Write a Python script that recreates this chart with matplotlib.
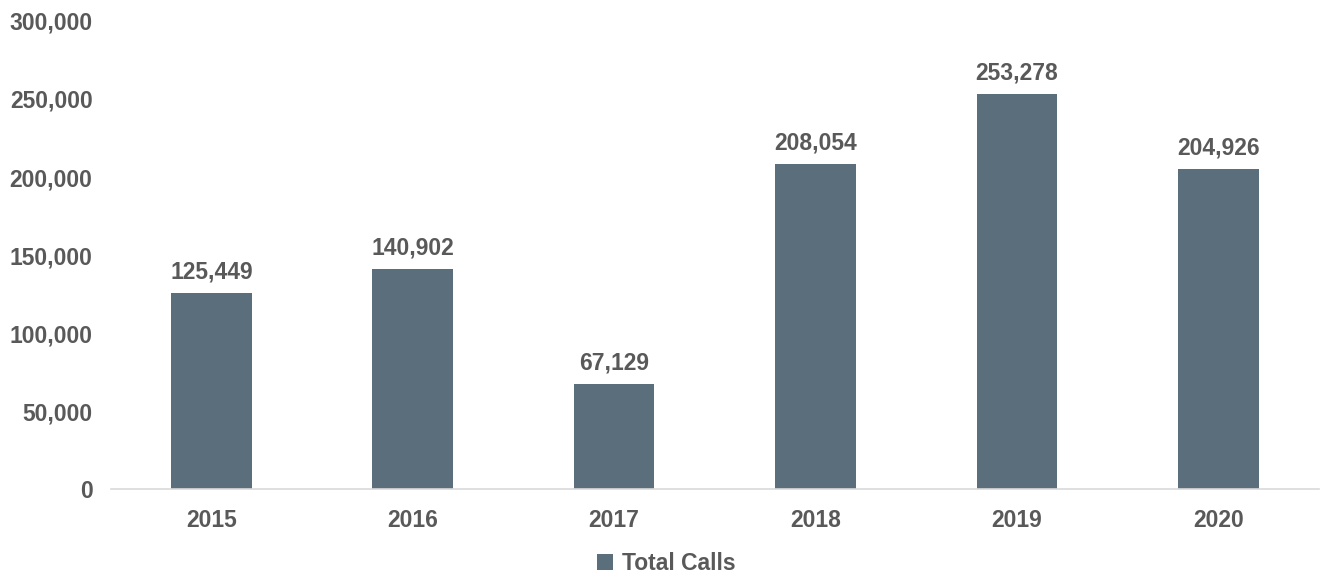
import matplotlib.pyplot as plt
from matplotlib.ticker import FuncFormatter

# data
years = ['2015', '2016', '2017', '2018', '2019', '2020']
total_calls = [125449, 140902, 67129, 208054, 253278, 204926]

bar_color = '#5B6E7C'
text_color = '#595959'

plt.rcParams['font.family'] = ['Liberation Sans', 'DejaVu Sans']
plt.rcParams['font.weight'] = 'bold'

fig = plt.figure(figsize=(13.25, 5.81), dpi=100)
ax = fig.add_axes([0.0835, 0.158, 0.912, 0.806])

x = range(len(years))
bars = ax.bar(x, total_calls, width=0.4, color=bar_color, label='Total Calls', zorder=2)

for xi, v in zip(x, total_calls):
    ax.annotate(f'{v:,}', (xi, v), xytext=(0, 7), textcoords='offset points',
                ha='center', va='bottom', fontsize=16.5, fontweight='bold', color=text_color)

ax.set_xlim(-0.5, len(years) - 0.5)
ax.set_ylim(0, 300000)
ax.set_yticks(range(0, 300001, 50000))
ax.yaxis.set_major_formatter(FuncFormatter(lambda v, p: f'{int(v):,}'))
ax.set_xticks(list(x))
ax.set_xticklabels(years)

for s in ['top', 'right', 'left']:
    ax.spines[s].set_visible(False)
ax.spines['bottom'].set_color('#D9D9D9')
ax.spines['bottom'].set_linewidth(1.2)
ax.tick_params(axis='both', length=0, labelsize=16.5, labelcolor=text_color)
ax.tick_params(axis='y', pad=13)
ax.tick_params(axis='x', pad=14)
for lab in ax.get_xticklabels() + ax.get_yticklabels():
    lab.set_fontweight('bold')

leg = fig.legend(loc='center', bbox_to_anchor=(0.503, 0.03), frameon=False,
                 handlelength=0.7, handleheight=0.7, handletextpad=0.4,
                 prop={'size': 16.5, 'weight': 'bold'})
for t in leg.get_texts():
    t.set_color(text_color)

plt.savefig('out.png', dpi=100)
